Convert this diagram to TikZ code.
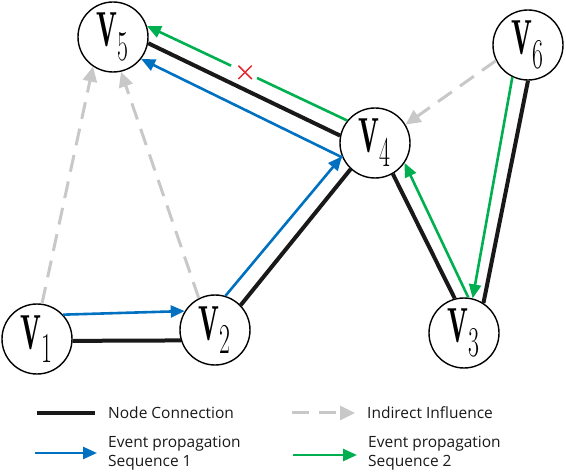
\documentclass[tikz,border=0pt]{standalone}
\usepackage{fontspec}
\setsansfont{Open Sans}
\usepackage{graphicx}
\usetikzlibrary{arrows.meta,calc}
\definecolor{SeqA}{RGB}{0,112,192}
\definecolor{SeqB}{RGB}{0,176,80}
\definecolor{Ind}{RGB}{200,200,200}
\definecolor{Cut}{RGB}{232,40,48}
\newcommand{\vlab}[1]{\fontsize{29}{29}\selectfont\scalebox{0.95}[1.7]{$\mathbf{V}_{\mbox{\fontsize{25}{25}\selectfont #1}}$}}

\begin{document}
\begin{tikzpicture}[x=1pt,y=-1pt,
    vtx/.style={circle, draw, line width=1.4pt, minimum size=70pt, inner sep=0pt},
    conn/.style={line width=4pt, black!90},
    seqa/.style={line width=2.6pt, SeqA, -{Triangle[length=14pt,width=12pt]}},
    seqb/.style={line width=2.6pt, SeqB, -{Triangle[length=14pt,width=12pt]}},
    indir/.style={line width=3pt, Ind, dash pattern=on 17pt off 10pt, -{Triangle[length=15pt,width=14pt]}},
    lgd/.style={font=\sffamily\fontsize{15.5}{18.5}\selectfont, text=black!90, anchor=west, align=left, inner sep=0pt}]
  \useasboundingbox (0,0) rectangle (566,476);
  % vertices
  \node[vtx] (V1) at (37,339) {\vlab{1}};
  \node[vtx] (V2) at (215,330) {\vlab{2}};
  \node[vtx] (V3) at (464,333) {\vlab{3}};
  \node[vtx] (V4) at (375,143) {\vlab{4}};
  \node[vtx] (V5) at (113,37) {\vlab{5}};
  \node[vtx] (V6) at (528,45) {\vlab{6}};
  % node connections
  \draw[conn] (V1.-3) -- (V2.197);
  \draw[conn] (V2.44) -- (V4.227);
  \draw[conn] (V5.-10) -- (V4.168);
  \draw[conn] (V4.-60) -- (V3.105);
  \draw[conn] (V6.-90) -- (V3.57);
  % indirect influence
  \draw[indir] (V1.82) -- (V5.236);
  \draw[indir] (V2.117) -- (V5.283);
  \draw[indir] (V6.206) -- (V4.31);
  % sequence 1
  \draw[seqa] (V1.43) -- (V2.148);
  \draw[seqa] (V2.73) -- (V4.202);
  \draw[seqa] (V4.204) -- (V5.-38);
  % sequence 2
  \draw[seqb] (V6.-116) -- (V3.76);
  \draw[seqb] (V3.83) -- (V4.-34);
  \coordinate (gapA) at ($(V4.141)!0.45!(V5.18)$);
  \coordinate (gapB) at ($(V4.141)!0.58!(V5.18)$);
  \draw[line width=2.6pt, SeqB] (V4.141) -- (gapA);
  \draw[seqb] (gapB) -- (V5.18);
  \node[minimum size=13pt, inner sep=0pt] (cut) at ($(V4.141)!0.51!(V5.18)$) {};
  \draw[Cut, line width=1.5pt] (cut.north west) -- (cut.south east);
  \draw[Cut, line width=1.5pt] (cut.north east) -- (cut.south west);
  % legend
  \coordinate (la1) at (37,413); \coordinate (la2) at (95,413);
  \coordinate (lb1) at (292,413); \coordinate (lb2) at (355,413);
  \coordinate (lc1) at (35,453); \coordinate (lc2) at (97,453);
  \coordinate (ld1) at (293,455); \coordinate (ld2) at (357,455);
  \draw[conn] (la1) -- (la2);
  \draw[indir] (lb1) -- (lb2);
  \draw[seqa] (lc1) -- (lc2);
  \draw[seqb] (ld1) -- (ld2);
  \node[lgd] (ta) at (108,413) {Node Connection};
  \node[lgd] (tb) at (367,413) {Indirect Influence};
  \node[lgd] (tc) at (108,453) {Event propagation\\Sequence 1};
  \node[lgd] (td) at (368,453) {Event propagation\\Sequence 2};
\end{tikzpicture}
\end{document}
